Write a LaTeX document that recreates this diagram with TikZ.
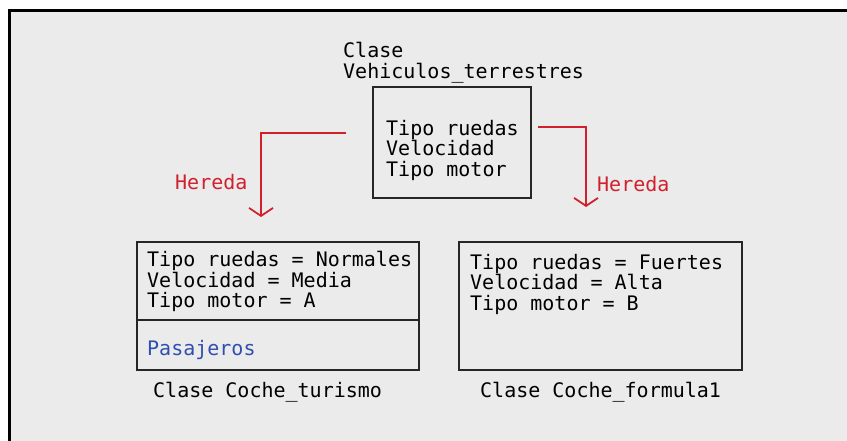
\documentclass[tikz,border=0pt]{standalone}
\usepackage{fontspec}
\setmonofont{DejaVu Sans Mono}
\usetikzlibrary{arrows.meta}
\definecolor{fondo}{HTML}{EBEBEB}
\definecolor{rojo}{HTML}{D0202C}
\definecolor{azul}{HTML}{2F4FB0}
\tikzset{
   clase/.style={draw=black!85, line width=1.8pt, inner sep=0pt, outer sep=0pt},
   texto/.style={font=\ttfamily\fontsize{20}{20.5}\selectfont, align=left, inner sep=0pt},
   herencia/.style={draw=rojo, line width=1.8pt, -{Straight Barb[width=24pt,length=8pt]}},
}
\begin{document}
\begin{tikzpicture}[x=1pt, y=-1pt]
   \useasboundingbox (0,0) rectangle (847,441);
   \fill[fondo] (10,11) rectangle (847,441);
   \draw[line width=3pt] (9.5,441) -- (9.5,10.5) -- (847,10.5);
   \node (titulo) [texto, anchor=north west] at (343,42) {Clase\\Vehiculos\_terrestres};
   \node (vehiculos) [clase, minimum width=158pt, minimum height=111pt, anchor=north west] at (373,87) {};
   \node (vehiculosattr) [texto, anchor=north west] at ([xshift=13pt,yshift=-33pt]vehiculos.north west) {Tipo ruedas\\Velocidad\\Tipo motor};
   \node (turismo) [clase, minimum width=282pt, minimum height=78pt, anchor=north west] at (137,242) {};
   \node (turismoextra) [clase, minimum width=282pt, minimum height=50pt, anchor=north] at (turismo.south) {};
   \node (turismoattr) [texto, anchor=north west] at ([xshift=10pt,yshift=-9pt]turismo.north west) {Tipo ruedas = Normales\\Velocidad = Media\\Tipo motor = A};
   \node (pasajeros) [texto, text=azul, anchor=base west] at ([xshift=10pt,yshift=-35pt]turismoextra.north west) {Pasajeros};
   \node (turismonombre) [texto, anchor=base west] at ([xshift=16pt,yshift=-27pt]turismoextra.south west) {Clase Coche\_turismo};
   \node (formula) [clase, minimum width=283pt, minimum height=128pt, anchor=north west] at (459,242) {};
   \node (formulaattr) [texto, anchor=north west] at ([xshift=11pt,yshift=-12pt]formula.north west) {Tipo ruedas = Fuertes\\Velocidad = Alta\\Tipo motor = B};
   \node (formulanombre) [texto, anchor=base west] at ([xshift=21pt,yshift=-27pt]formula.south west) {Clase Coche\_formula1};
   \node (heredaizq) [texto, text=rojo, anchor=base west] at (175,190) {Hereda};
   \node (heredader) [texto, text=rojo, anchor=base west] at (597,192) {Hereda};
   \draw[herencia, shorten >=25pt] ([xshift=-27pt,yshift=9.5pt]vehiculos.west) -| ([xshift=-17pt]turismo.north);
   \draw[herencia, shorten >=35pt] ([xshift=7pt,yshift=15.5pt]vehiculos.east) -| ([xshift=-14.5pt]formula.north);
\end{tikzpicture}
\end{document}
